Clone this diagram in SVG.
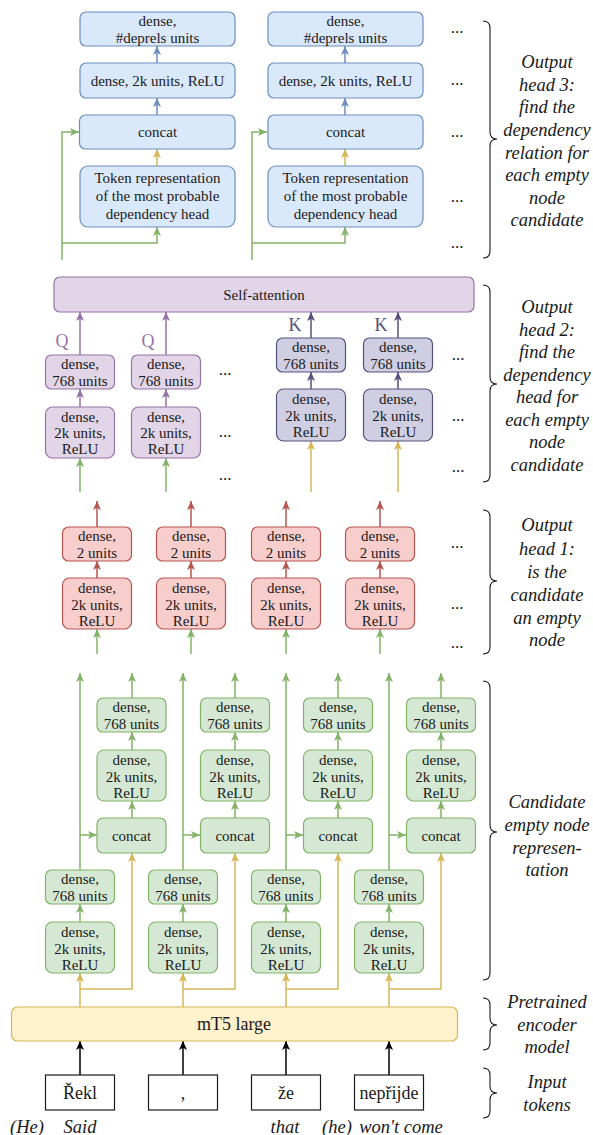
<svg xmlns="http://www.w3.org/2000/svg" width="593" height="1135" viewBox="0 0 593 1135" font-family="'Liberation Serif', Tinos, 'Times New Roman', Times, 'DejaVu Serif', serif">
  <style>
    text { font-family: "Liberation Serif", Tinos, "Times New Roman", Times, "DejaVu Serif", serif; fill: #1a1a1a; }
    .t { font-size: 15px; text-anchor: middle; dominant-baseline: central; }
    .big { font-size: 18px; text-anchor: middle; dominant-baseline: central; }
    .lab { font-size: 18.5px; font-style: italic; text-anchor: middle; dominant-baseline: central; }
    .dots { font-size: 17px; text-anchor: middle; }
    .qk { font-size: 18px; text-anchor: middle; dominant-baseline: central; }
    .qc { fill: #9673a6; }
    .kc { fill: #56517e; }
    .blue { fill: #dae8fc; stroke: #6c8ebf; stroke-width: 1.2; }
    .purple { fill: #e1d5e7; stroke: #9673a6; stroke-width: 1.2; }
    .slate { fill: #d0cee2; stroke: #56517e; stroke-width: 1.2; }
    .red { fill: #f8cecc; stroke: #b85450; stroke-width: 1.2; }
    .green { fill: #d5e8d4; stroke: #82b366; stroke-width: 1.2; }
    .yellow { fill: #fff2cc; stroke: #d6b656; stroke-width: 1.2; }
    .tok { fill: #ffffff; stroke: #1a1a1a; stroke-width: 1.2; }
    .c { fill: none; stroke-width: 1.5; }
    .cb { stroke: #6c8ebf; marker-end: url(#ab); }
    .cy { stroke: #d6b656; marker-end: url(#ay); }
    .cg { stroke: #82b366; marker-end: url(#ag); }
    .cr { stroke: #b85450; marker-end: url(#ar); }
    .cp { stroke: #9673a6; marker-end: url(#ap); }
    .cs { stroke: #56517e; marker-end: url(#as); }
    .ck { stroke: #000000; marker-end: url(#ak); }
    .brace { fill: none; stroke: #1a1a1a; stroke-width: 1.1; }
  </style>
  <defs>
    <marker id="ab" markerUnits="userSpaceOnUse" markerWidth="10" markerHeight="9" refX="9" refY="4.5" orient="auto"><path d="M0,0.5 L9,4.5 L0,8.5 L2.2,4.5 Z" fill="#6c8ebf"/></marker>
    <marker id="ay" markerUnits="userSpaceOnUse" markerWidth="10" markerHeight="9" refX="9" refY="4.5" orient="auto"><path d="M0,0.5 L9,4.5 L0,8.5 L2.2,4.5 Z" fill="#d6b656"/></marker>
    <marker id="ag" markerUnits="userSpaceOnUse" markerWidth="10" markerHeight="9" refX="9" refY="4.5" orient="auto"><path d="M0,0.5 L9,4.5 L0,8.5 L2.2,4.5 Z" fill="#82b366"/></marker>
    <marker id="ar" markerUnits="userSpaceOnUse" markerWidth="10" markerHeight="9" refX="9" refY="4.5" orient="auto"><path d="M0,0.5 L9,4.5 L0,8.5 L2.2,4.5 Z" fill="#b85450"/></marker>
    <marker id="ap" markerUnits="userSpaceOnUse" markerWidth="10" markerHeight="9" refX="9" refY="4.5" orient="auto"><path d="M0,0.5 L9,4.5 L0,8.5 L2.2,4.5 Z" fill="#9673a6"/></marker>
    <marker id="as" markerUnits="userSpaceOnUse" markerWidth="10" markerHeight="9" refX="9" refY="4.5" orient="auto"><path d="M0,0.5 L9,4.5 L0,8.5 L2.2,4.5 Z" fill="#56517e"/></marker>
    <marker id="ak" markerUnits="userSpaceOnUse" markerWidth="10" markerHeight="9" refX="9" refY="4.5" orient="auto"><path d="M0,0.5 L9,4.5 L0,8.5 L2.2,4.5 Z" fill="#000000"/></marker>
  </defs>

  <!-- connectors -->
  <g id="connectors" class="c">
    <!-- head 3, column A -->
    <path class="c cb" d="M157,63 V46"/>
    <path class="c cb" d="M157,115 V98"/>
    <path class="c cy" d="M157,166 V149"/>
    <path class="c cg" d="M62,260 V132 H79"/>
    <path class="c cg" d="M62,243 H157 V227"/>
    <!-- head 3, column B -->
    <path class="c cb" d="M345,63 V46"/>
    <path class="c cb" d="M345,115 V98"/>
    <path class="c cy" d="M345,166 V149"/>
    <path class="c cg" d="M252,260 V132 H267"/>
    <path class="c cg" d="M252,243 H345 V227"/>
    <!-- head 2, queries -->
    <path class="c cp" d="M80,407 V389"/>
    <path class="c cp" d="M80,355 V312"/>
    <path class="c cg" d="M80,492 V458"/>
    <path class="c cp" d="M166,407 V389"/>
    <path class="c cp" d="M166,355 V312"/>
    <path class="c cg" d="M166,492 V458"/>
    <!-- head 2, keys -->
    <path class="c cs" d="M311,389 V372"/>
    <path class="c cs" d="M311,338 V312"/>
    <path class="c cy" d="M311,492 V441"/>
    <path class="c cs" d="M398,389 V372"/>
    <path class="c cs" d="M398,338 V312"/>
    <path class="c cy" d="M398,492 V441"/>
    <!-- head 1 -->
    <path class="c cr" d="M97,578 V561"/>
    <path class="c cr" d="M97,527 V501"/>
    <path class="c cg" d="M97,654 V629"/>
    <path class="c cr" d="M191,578 V561"/>
    <path class="c cr" d="M191,527 V501"/>
    <path class="c cg" d="M191,654 V629"/>
    <path class="c cr" d="M286,578 V561"/>
    <path class="c cr" d="M286,527 V501"/>
    <path class="c cg" d="M286,654 V629"/>
    <path class="c cr" d="M380,578 V561"/>
    <path class="c cr" d="M380,527 V501"/>
    <path class="c cg" d="M380,654 V629"/>
    <!-- candidate representation, 4 columns -->
    <path class="c cg" d="M80,922 V904"/>
    <path class="c cg" d="M80,870 V673"/>
    <path class="c cg" d="M80,835 H97"/>
    <path class="c cg" d="M132,818 V801"/>
    <path class="c cg" d="M132,750 V732"/>
    <path class="c cg" d="M132,698 V673"/>
    <path class="c cy" d="M80,1007 V973"/>
    <path class="c cy" d="M80,989 H132 V853"/>

    <path class="c cg" d="M183,922 V904"/>
    <path class="c cg" d="M183,870 V673"/>
    <path class="c cg" d="M183,835 H200"/>
    <path class="c cg" d="M235,818 V801"/>
    <path class="c cg" d="M235,750 V732"/>
    <path class="c cg" d="M235,698 V673"/>
    <path class="c cy" d="M183,1007 V973"/>
    <path class="c cy" d="M183,989 H235 V853"/>

    <path class="c cg" d="M286,922 V904"/>
    <path class="c cg" d="M286,870 V673"/>
    <path class="c cg" d="M286,835 H303"/>
    <path class="c cg" d="M338,818 V801"/>
    <path class="c cg" d="M338,750 V732"/>
    <path class="c cg" d="M338,698 V673"/>
    <path class="c cy" d="M286,1007 V973"/>
    <path class="c cy" d="M286,989 H338 V853"/>

    <path class="c cg" d="M389,922 V904"/>
    <path class="c cg" d="M389,870 V673"/>
    <path class="c cg" d="M389,835 H406"/>
    <path class="c cg" d="M441,818 V801"/>
    <path class="c cg" d="M441,750 V732"/>
    <path class="c cg" d="M441,698 V673"/>
    <path class="c cy" d="M389,1007 V973"/>
    <path class="c cy" d="M389,989 H441 V853"/>
    <!-- input tokens into encoder -->
    <path class="c ck" d="M80,1075 V1041"/>
    <path class="c ck" d="M183,1075 V1041"/>
    <path class="c ck" d="M286,1075 V1041"/>
    <path class="c ck" d="M389,1075 V1041"/>
  </g>

  <!-- output head 3 -->
  <g id="h3a-out"><rect class="blue" x="80" y="12" width="155" height="34" rx="6"/><text class="t" x="157.5" y="20.5">dense,</text><text class="t" x="157.5" y="37.5">#deprels units</text></g>
  <g id="h3a-relu"><rect class="blue" x="80" y="63" width="155" height="35" rx="6"/><text class="t" x="157.5" y="80.5">dense, 2k units, ReLU</text></g>
  <g id="h3a-concat"><rect class="blue" x="79.5" y="115" width="155.5" height="34" rx="6"/><text class="t" x="157.5" y="132">concat</text></g>
  <g id="h3a-token"><rect class="blue" x="80" y="166" width="155" height="61" rx="8"/><text class="t" x="157.5" y="178">Token representation</text><text class="t" x="157.5" y="196">of the most probable</text><text class="t" x="157.5" y="214">dependency head</text></g>

  <g id="h3b-out"><rect class="blue" x="268" y="12" width="155" height="34" rx="6"/><text class="t" x="345.5" y="20.5">dense,</text><text class="t" x="345.5" y="37.5">#deprels units</text></g>
  <g id="h3b-relu"><rect class="blue" x="268" y="63" width="155" height="35" rx="6"/><text class="t" x="345.5" y="80.5">dense, 2k units, ReLU</text></g>
  <g id="h3b-concat"><rect class="blue" x="268" y="115" width="155" height="34" rx="6"/><text class="t" x="345.5" y="132">concat</text></g>
  <g id="h3b-token"><rect class="blue" x="268" y="166" width="155" height="61" rx="8"/><text class="t" x="345.5" y="178">Token representation</text><text class="t" x="345.5" y="196">of the most probable</text><text class="t" x="345.5" y="214">dependency head</text></g>

  <g id="h3-dots">
    <text class="dots" x="457" y="33">...</text>
    <text class="dots" x="457" y="85">...</text>
    <text class="dots" x="457" y="137">...</text>
    <text class="dots" x="457" y="202">...</text>
    <text class="dots" x="457" y="248">...</text>
  </g>

  <!-- output head 2 -->
  <g id="self-attention"><rect class="purple" x="54" y="277" width="420" height="35" rx="6"/><text class="t" x="264" y="295">Self-attention</text></g>

  <g id="q1-768"><rect class="purple" x="45.5" y="355" width="69" height="34" rx="6"/><text class="t" x="80" y="364">dense,</text><text class="t" x="80" y="380.5">768 units</text></g>
  <g id="q1-relu"><rect class="purple" x="45.5" y="407" width="69" height="51" rx="7"/><text class="t" x="80" y="416.5">dense,</text><text class="t" x="80" y="433">2k units,</text><text class="t" x="80" y="449">ReLU</text></g>
  <g id="q2-768"><rect class="purple" x="131.5" y="355" width="69" height="34" rx="6"/><text class="t" x="166" y="364">dense,</text><text class="t" x="166" y="380.5">768 units</text></g>
  <g id="q2-relu"><rect class="purple" x="131.5" y="407" width="69" height="51" rx="7"/><text class="t" x="166" y="416.5">dense,</text><text class="t" x="166" y="433">2k units,</text><text class="t" x="166" y="449">ReLU</text></g>

  <g id="k1-768"><rect class="slate" x="276.5" y="338" width="69" height="34" rx="6"/><text class="t" x="311" y="347">dense,</text><text class="t" x="311" y="363.5">768 units</text></g>
  <g id="k1-relu"><rect class="slate" x="276.5" y="389" width="69" height="52" rx="7"/><text class="t" x="311" y="399">dense,</text><text class="t" x="311" y="415.5">2k units,</text><text class="t" x="311" y="431.5">ReLU</text></g>
  <g id="k2-768"><rect class="slate" x="363.5" y="338" width="69" height="34" rx="6"/><text class="t" x="398" y="347">dense,</text><text class="t" x="398" y="363.5">768 units</text></g>
  <g id="k2-relu"><rect class="slate" x="363.5" y="389" width="69" height="52" rx="7"/><text class="t" x="398" y="399">dense,</text><text class="t" x="398" y="415.5">2k units,</text><text class="t" x="398" y="431.5">ReLU</text></g>

  <g id="qk-labels">
    <text class="qk qc" x="62" y="341">Q</text>
    <text class="qk qc" x="148" y="341">Q</text>
    <text class="qk kc" x="295" y="325">K</text>
    <text class="qk kc" x="381" y="325">K</text>
  </g>

  <g id="h2-dots">
    <text class="dots" x="225" y="375">...</text>
    <text class="dots" x="225" y="437">...</text>
    <text class="dots" x="225" y="480">...</text>
    <text class="dots" x="458" y="360">...</text>
    <text class="dots" x="458" y="421">...</text>
    <text class="dots" x="458" y="472">...</text>
  </g>

  <!-- output head 1 -->
  <g id="e1-out"><rect class="red" x="62.5" y="527" width="69" height="34" rx="6"/><text class="t" x="97" y="536">dense,</text><text class="t" x="97" y="553">2 units</text></g>
  <g id="e1-relu"><rect class="red" x="62.5" y="578" width="69" height="51" rx="7"/><text class="t" x="97" y="588">dense,</text><text class="t" x="97" y="604.5">2k units,</text><text class="t" x="97" y="620.5">ReLU</text></g>
  <g id="e2-out"><rect class="red" x="156.5" y="527" width="69" height="34" rx="6"/><text class="t" x="191" y="536">dense,</text><text class="t" x="191" y="553">2 units</text></g>
  <g id="e2-relu"><rect class="red" x="156.5" y="578" width="69" height="51" rx="7"/><text class="t" x="191" y="588">dense,</text><text class="t" x="191" y="604.5">2k units,</text><text class="t" x="191" y="620.5">ReLU</text></g>
  <g id="e3-out"><rect class="red" x="251.5" y="527" width="69" height="34" rx="6"/><text class="t" x="286" y="536">dense,</text><text class="t" x="286" y="553">2 units</text></g>
  <g id="e3-relu"><rect class="red" x="251.5" y="578" width="69" height="51" rx="7"/><text class="t" x="286" y="588">dense,</text><text class="t" x="286" y="604.5">2k units,</text><text class="t" x="286" y="620.5">ReLU</text></g>
  <g id="e4-out"><rect class="red" x="345.5" y="527" width="69" height="34" rx="6"/><text class="t" x="380" y="536">dense,</text><text class="t" x="380" y="553">2 units</text></g>
  <g id="e4-relu"><rect class="red" x="345.5" y="578" width="69" height="51" rx="7"/><text class="t" x="380" y="588">dense,</text><text class="t" x="380" y="604.5">2k units,</text><text class="t" x="380" y="620.5">ReLU</text></g>

  <g id="h1-dots">
    <text class="dots" x="457" y="548">...</text>
    <text class="dots" x="457" y="609">...</text>
    <text class="dots" x="457" y="648">...</text>
  </g>

  <!-- candidate empty node representation -->
  <g id="c1-tok-relu"><rect class="green" x="45.5" y="922" width="69" height="51" rx="7"/><text class="t" x="80" y="932">dense,</text><text class="t" x="80" y="948.5">2k units,</text><text class="t" x="80" y="964.5">ReLU</text></g>
  <g id="c1-tok-768"><rect class="green" x="45.5" y="870" width="69" height="34" rx="6"/><text class="t" x="80" y="879">dense,</text><text class="t" x="80" y="895.5">768 units</text></g>
  <g id="c1-concat"><rect class="green" x="97" y="818" width="69" height="35" rx="6"/><text class="t" x="131.5" y="835.5">concat</text></g>
  <g id="c1-relu"><rect class="green" x="97" y="750" width="69" height="51" rx="7"/><text class="t" x="131.5" y="760">dense,</text><text class="t" x="131.5" y="776.5">2k units,</text><text class="t" x="131.5" y="792.5">ReLU</text></g>
  <g id="c1-768"><rect class="green" x="97" y="698" width="69" height="34" rx="6"/><text class="t" x="131.5" y="707">dense,</text><text class="t" x="131.5" y="723.5">768 units</text></g>

  <g id="c2-tok-relu"><rect class="green" x="148.5" y="922" width="69" height="51" rx="7"/><text class="t" x="183" y="932">dense,</text><text class="t" x="183" y="948.5">2k units,</text><text class="t" x="183" y="964.5">ReLU</text></g>
  <g id="c2-tok-768"><rect class="green" x="148.5" y="870" width="69" height="34" rx="6"/><text class="t" x="183" y="879">dense,</text><text class="t" x="183" y="895.5">768 units</text></g>
  <g id="c2-concat"><rect class="green" x="200.5" y="818" width="69" height="35" rx="6"/><text class="t" x="235" y="835.5">concat</text></g>
  <g id="c2-relu"><rect class="green" x="200.5" y="750" width="69" height="51" rx="7"/><text class="t" x="235" y="760">dense,</text><text class="t" x="235" y="776.5">2k units,</text><text class="t" x="235" y="792.5">ReLU</text></g>
  <g id="c2-768"><rect class="green" x="200.5" y="698" width="69" height="34" rx="6"/><text class="t" x="235" y="707">dense,</text><text class="t" x="235" y="723.5">768 units</text></g>

  <g id="c3-tok-relu"><rect class="green" x="251.5" y="922" width="69" height="51" rx="7"/><text class="t" x="286" y="932">dense,</text><text class="t" x="286" y="948.5">2k units,</text><text class="t" x="286" y="964.5">ReLU</text></g>
  <g id="c3-tok-768"><rect class="green" x="251.5" y="870" width="69" height="34" rx="6"/><text class="t" x="286" y="879">dense,</text><text class="t" x="286" y="895.5">768 units</text></g>
  <g id="c3-concat"><rect class="green" x="303.5" y="818" width="69" height="35" rx="6"/><text class="t" x="338" y="835.5">concat</text></g>
  <g id="c3-relu"><rect class="green" x="303.5" y="750" width="69" height="51" rx="7"/><text class="t" x="338" y="760">dense,</text><text class="t" x="338" y="776.5">2k units,</text><text class="t" x="338" y="792.5">ReLU</text></g>
  <g id="c3-768"><rect class="green" x="303.5" y="698" width="69" height="34" rx="6"/><text class="t" x="338" y="707">dense,</text><text class="t" x="338" y="723.5">768 units</text></g>

  <g id="c4-tok-relu"><rect class="green" x="354.5" y="922" width="69" height="51" rx="7"/><text class="t" x="389" y="932">dense,</text><text class="t" x="389" y="948.5">2k units,</text><text class="t" x="389" y="964.5">ReLU</text></g>
  <g id="c4-tok-768"><rect class="green" x="354.5" y="870" width="69" height="34" rx="6"/><text class="t" x="389" y="879">dense,</text><text class="t" x="389" y="895.5">768 units</text></g>
  <g id="c4-concat"><rect class="green" x="406.5" y="818" width="69" height="35" rx="6"/><text class="t" x="441" y="835.5">concat</text></g>
  <g id="c4-relu"><rect class="green" x="406.5" y="750" width="69" height="51" rx="7"/><text class="t" x="441" y="760">dense,</text><text class="t" x="441" y="776.5">2k units,</text><text class="t" x="441" y="792.5">ReLU</text></g>
  <g id="c4-768"><rect class="green" x="406.5" y="698" width="69" height="34" rx="6"/><text class="t" x="441" y="707">dense,</text><text class="t" x="441" y="723.5">768 units</text></g>

  <!-- encoder -->
  <g id="encoder"><rect class="yellow" x="11.5" y="1007" width="446" height="34" rx="6"/><text class="big" x="234" y="1024">mT5 large</text></g>

  <!-- input tokens -->
  <g id="tok1"><rect class="tok" x="45.5" y="1075" width="69" height="35"/><text class="big" x="80" y="1092.5">Řekl</text></g>
  <g id="tok2"><rect class="tok" x="148.5" y="1075" width="69" height="35"/><text class="big" x="183" y="1092.5">,</text></g>
  <g id="tok3"><rect class="tok" x="251.5" y="1075" width="69" height="35"/><text class="big" x="286" y="1092.5">že</text></g>
  <g id="tok4"><rect class="tok" x="354.5" y="1075" width="69" height="35"/><text class="big" x="389" y="1092.5">nepřijde</text></g>

  <!-- glosses -->
  <g id="glosses">
    <text class="lab" x="27" y="1127">(He)</text>
    <text class="lab" x="80" y="1127">Said</text>
    <text class="lab" x="285" y="1127">that</text>
    <text class="lab" x="337" y="1127">(he)</text>
    <text class="lab" x="401" y="1127">won't come</text>
  </g>

  <!-- section braces and captions -->
  <g id="brace-head3">
    <path class="brace" d="M483,21 Q490,21 490,28 L490,132 Q490,139 497,139 Q490,139 490,146 L490,251 Q490,258 483,258"/>
    <text class="lab" x="547" y="62">Output</text>
    <text class="lab" x="547" y="85">head 3:</text>
    <text class="lab" x="547" y="107">find the</text>
    <text class="lab" x="547" y="130">dependency</text>
    <text class="lab" x="547" y="153">relation for</text>
    <text class="lab" x="547" y="175">each empty</text>
    <text class="lab" x="547" y="198">node</text>
    <text class="lab" x="547" y="220">candidate</text>
  </g>
  <g id="brace-head2">
    <path class="brace" d="M483,285 Q490,285 490,292 L490,377 Q490,384 497,384 Q490,384 490,391 L490,475 Q490,482 483,482"/>
    <text class="lab" x="547" y="307">Output</text>
    <text class="lab" x="547" y="330">head 2:</text>
    <text class="lab" x="547" y="352">find the</text>
    <text class="lab" x="547" y="375">dependency</text>
    <text class="lab" x="547" y="397">head for</text>
    <text class="lab" x="547" y="420">each empty</text>
    <text class="lab" x="547" y="442">node</text>
    <text class="lab" x="547" y="465">candidate</text>
  </g>
  <g id="brace-head1">
    <path class="brace" d="M483,510 Q490,510 490,517 L490,574 Q490,581 497,581 Q490,581 490,588 L490,647 Q490,654 483,654"/>
    <text class="lab" x="547" y="525">Output</text>
    <text class="lab" x="547" y="549">head 1:</text>
    <text class="lab" x="547" y="572">is the</text>
    <text class="lab" x="547" y="595">candidate</text>
    <text class="lab" x="547" y="618">an empty</text>
    <text class="lab" x="547" y="640">node</text>
  </g>
  <g id="brace-candidate">
    <path class="brace" d="M483,681 Q490,681 490,688 L490,825 Q490,832 497,832 Q490,832 490,839 L490,973 Q490,980 483,980"/>
    <text class="lab" x="547" y="802">Candidate</text>
    <text class="lab" x="547" y="825">empty node</text>
    <text class="lab" x="547" y="848">represen-</text>
    <text class="lab" x="547" y="870">tation</text>
  </g>
  <g id="brace-encoder">
    <path class="brace" d="M483,998 Q490,998 490,1005 L490,1018 Q490,1025 497,1025 Q490,1025 490,1032 L490,1043 Q490,1050 483,1050"/>
    <text class="lab" x="547" y="1002">Pretrained</text>
    <text class="lab" x="547" y="1025">encoder</text>
    <text class="lab" x="547" y="1047">model</text>
  </g>
  <g id="brace-input">
    <path class="brace" d="M483,1068 Q490,1068 490,1075 L490,1086 Q490,1093 497,1093 Q490,1093 490,1100 L490,1111 Q490,1118 483,1118"/>
    <text class="lab" x="547" y="1082">Input</text>
    <text class="lab" x="547" y="1105">tokens</text>
  </g>
</svg>
